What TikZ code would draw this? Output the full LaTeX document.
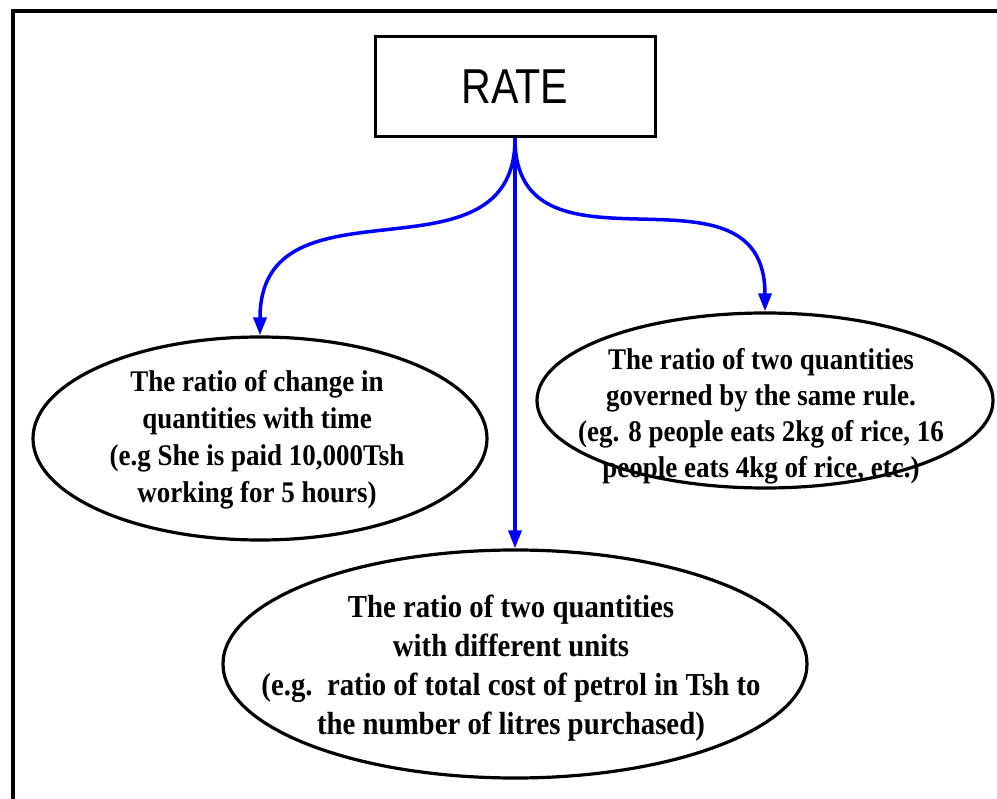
\documentclass[tikz,border=0pt]{standalone}
\usepackage{fontspec}
\newfontfamily\ellfont[FakeStretch=0.9]{Liberation Serif}
\newfontfamily\ratefont[FakeStretch=0.84]{Liberation Sans}
\usetikzlibrary{shapes.geometric,arrows.meta}
\definecolor{arrowblue}{RGB}{0,0,255}
\tikzset{
  ell/.style={draw=black, line width=3.2pt, ellipse, inner sep=0pt},
  elltext/.style={align=center, inner sep=0pt, font=\ellfont\bfseries\fontsize{30}{37}\selectfont},
  conn/.style={draw=arrowblue, line width=3.5pt, -{Triangle[length=18pt,width=13pt]}},
}
\begin{document}
\begin{tikzpicture}[x=1pt,y=-1pt]
\useasboundingbox (0,0) rectangle (997,799);
\clip (0,0) rectangle (997,799);
\fill[white] (0,0) rectangle (997,799);
\draw[line width=4pt] (12.5,830) -- (12.5,11.5) -- (1030,11.5);

\node[draw, line width=3pt, minimum width=280pt, minimum height=100pt, inner sep=0pt,
      font=\ratefont\fontsize{49}{55}\selectfont] (rate) at (515,87) {RATE};

\node[ell, minimum width=454pt, minimum height=203pt] (left) at (260,438.5) {};
\node[elltext] (lefttext) at (257,440) {The ratio of change in\\ quantities with time\\ (e.g She is paid 10,000Tsh\\ working for 5 hours)};

\node[ell, minimum width=456pt, minimum height=175pt] (right) at (765,400.5) {};
\node[elltext, font=\ellfont\bfseries\fontsize{30}{36}\selectfont] (righttext) at (761,416) {The ratio of two quantities\\ governed by the same rule.\\ (eg. 8 people eats 2kg of rice, 16\\ people eats 4kg of rice, etc.)};

\node[ell, minimum width=584pt, minimum height=228pt] (bottom) at (515,664) {};
\node[elltext, font=\ellfont\bfseries\fontsize{32}{39}\selectfont] (bottomtext) at (511,668) {The ratio of two quantities\\ with different units\\ (e.g.\ \ ratio of total cost of petrol in Tsh to\\ the number of litres purchased)};

\draw[conn] (rate.south) .. controls +(0,153) and +(0,-167) .. (left.north);
\draw[conn] (rate.south) .. controls +(0,153) and +(0,-163) .. (right.north);
\draw[conn] (rate.south) -- (bottom.north);
\end{tikzpicture}
\end{document}
